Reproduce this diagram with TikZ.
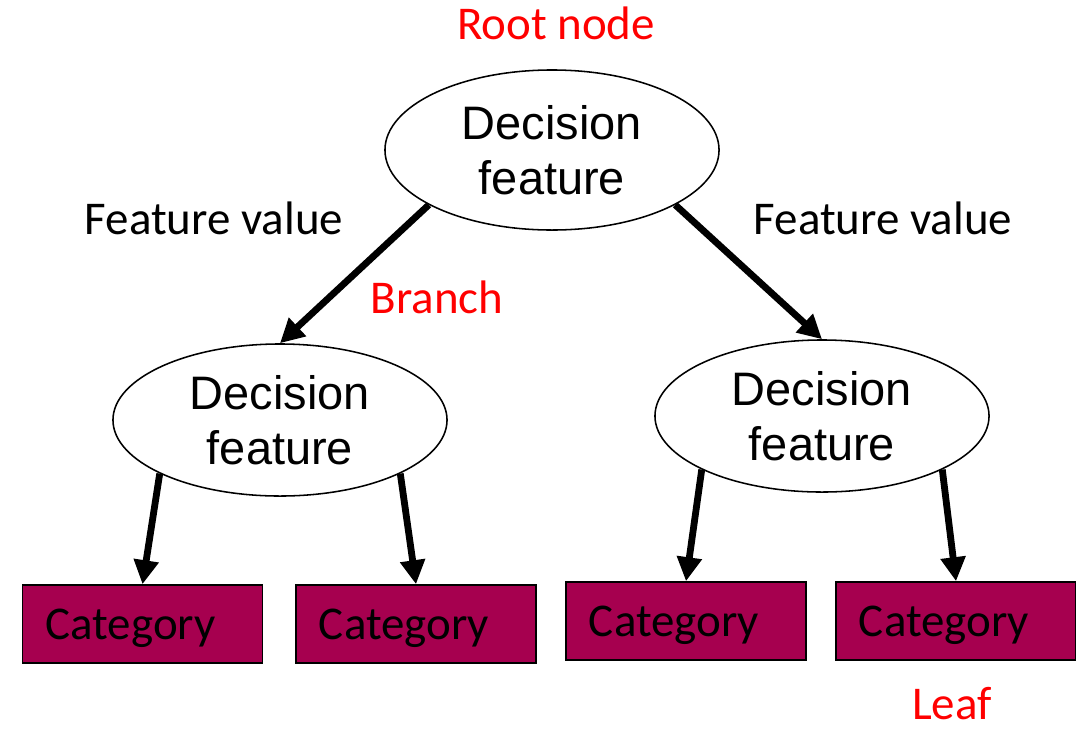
\documentclass[tikz,border=0pt]{standalone}
\usepackage{fontspec}
\setmainfont{Carlito}
\newfontfamily\arialfont{Liberation Sans}
\usetikzlibrary{arrows.meta,positioning,shapes.geometric}
\definecolor{TreeLeaf}{HTML}{A6004F}
\definecolor{TreeRed}{HTML}{FF0000}

\begin{document}
\begin{tikzpicture}[x=0.025cm,y=-0.025cm,
    decision/.style={
      ellipse,
      draw=black,
      line width=1.1pt,
      minimum width=8.35cm,
      minimum height=3.8cm,
      inner sep=0pt,
      align=center,
      font=\arialfont\fontsize{33.4}{39.1}\selectfont
    },
    leafbox/.style={
      rectangle,
      draw=black,
      fill=TreeLeaf,
      line width=1.1pt,
      minimum width=6cm,
      minimum height=1.95cm,
      text width=4.85cm,
      text depth=0pt,
      align=left,
      inner xsep=0.575cm,
      font=\fontsize{33.4}{40}\selectfont
    },
    tag/.style={
      anchor=base,
      inner sep=0pt,
      font=\fontsize{33.4}{40}\selectfont
    },
    branch/.style={
      -{Triangle[length=6mm,width=6mm]},
      line width=0.17cm,
      draw=black
    }]

    \useasboundingbox (0,0) rectangle (1076,731);

    % Decision nodes
    \node[decision,minimum height=4cm] (root) at (552,150) {Decision\\feature};
    \node[decision] (dl) at (280,420) {Decision\\feature};
    \node[decision] (dr) at (822,416) {Decision\\feature};

    % Leaves
    \node[leafbox] (c1) at (142.5,624) {Category};
    \node[leafbox] (c2) at (416,624) {Category};
    \node[leafbox] (c3) at (686,621) {Category};
    \node[leafbox] (c4) at (956,621) {Category};

    % Labels
    \node[tag,text=TreeRed] (lroot) at (556,39) {Root node};
    \node[tag] (fvl) at (214,234) {Feature value};
    \node[tag] (fvr) at (883,234) {Feature value};
    \node[tag,text=TreeRed] (lbranch) at (437,313) {Branch};
    \node[tag,text=TreeRed] (lleaf) at (952,719) {Leaf};

    % Branches
    \draw[branch] (root.204) -- (dl.north);
    \draw[branch] (root.336) -- (dr.north);
    \draw[branch] (dl.204) -- (c1.north);
    \draw[branch] (dl.336) -- (c2.north);
    \draw[branch] (dr.204) -- (c3.north);
    \draw[branch] (dr.336) -- (c4.north);
  \end{tikzpicture}
\end{document}
